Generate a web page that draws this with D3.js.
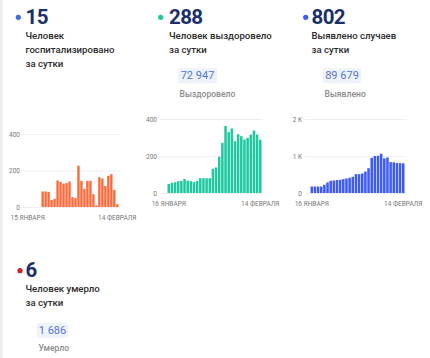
<!DOCTYPE html>
<html><head><meta charset="utf-8">
<script src="https://cdn.jsdelivr.net/npm/d3@7"></script>
<style>
html,body{margin:0;padding:0;background:#fff;}
svg{display:block;font-family:Roboto,"Noto Sans",sans-serif;}
</style></head>
<body><svg id="c" width="430" height="358"></svg>
<script>
// ---- data ----
const hospDates = d3.timeDay.range(new Date(2021,0,15), new Date(2021,1,15));
const otherDates = d3.timeDay.range(new Date(2021,0,16), new Date(2021,1,15));
const hospitalized = [null,null,null,null,null,85,85,83,38,45,145,138,128,131,140,54,49,226,143,99,143,143,70,9,163,156,115,171,180,94,15];
const recovered = [49,55,58,64,65,76,67,64,60,65,80,80,80,80,131,138,196,271,362,329,349,280,318,307,289,298,316,338,316,288];
const cases = [175,175,175,175,223,286,330,339,348,357,375,393,411,438,509,509,527,580,670,950,1000,1005,1060,935,960,835,830,810,805,802];
const hospTicks = [0,200,400];
const recTicks = [0,200,400];
const caseTicks = [0,1000,2000];
const caseTickLabels = ["0","1 K","2 K"];
const hospDateLabels = ["15 ЯНВАРЯ","14 ФЕВРАЛЯ"];
const otherDateLabels = ["16 ЯНВАРЯ","14 ФЕВРАЛЯ"];
const headlines = [
  {num:"15", lines:["Человек","госпитализировано","за сутки"], total:null, totalLabel:null, dot:"#3d6be0"},
  {num:"288", lines:["Человек выздоровело","за сутки"], total:"72 947", totalLabel:"Выздоровело", dot:"#1fc79d"},
  {num:"802", lines:["Выявлено случаев","за сутки"], total:"89 679", totalLabel:"Выявлено", dot:"#3d5af1"},
  {num:"6", lines:["Человек умерло","за сутки"], total:"1 686", totalLabel:"Умерло", dot:"#d3202b"}
];

// ---- layout ----
const svg = d3.select("#c");
svg.append("rect").attr("x",0).attr("y",0).attr("width",2.5).attr("height",358).attr("fill","#ececec");

const blocks = [
  {x:25.5, dotX:18.3, dotY:17.3, numY:23.5, lineY:39, boxX:null},
  {x:169, dotX:160.7, dotY:17.3, numY:23.5, lineY:39, boxX:178, boxY:68.3, boxW:39},
  {x:311.5, dotX:305.7, dotY:17.3, numY:23.5, lineY:39, boxX:323, boxY:68.3, boxW:38},
  {x:25.5, dotX:20, dotY:270.7, numY:276.5, lineY:292.3, boxX:37, boxY:322.7, boxW:31}
];
headlines.forEach((h,i)=>{
  const b = blocks[i];
  const g = svg.append("g");
  g.append("circle").attr("cx",b.dotX).attr("cy",b.dotY).attr("r",2.6).attr("fill",h.dot);
  g.append("text").attr("x",b.x).attr("y",b.numY).text(h.num)
    .attr("font-size",20.5).attr("font-weight",700).attr("letter-spacing",-0.6).attr("fill","#1b2f6b");
  h.lines.forEach((l,j)=>{
    g.append("text").attr("x",b.x).attr("y",b.lineY+j*14).text(l)
      .attr("font-size",9.6).attr("font-weight",500).attr("fill","#2b2b2b");
  });
  if(h.total){
    g.append("rect").attr("x",b.boxX).attr("y",b.boxY).attr("width",b.boxW).attr("height",15)
      .attr("rx",2).attr("fill","#eef2fb");
    g.append("text").attr("x",b.boxX+b.boxW/2).attr("y",b.boxY+11).attr("text-anchor","middle")
      .text(h.total).attr("font-size",11).attr("fill","#5676d6");
    g.append("text").attr("x",b.boxX+1.5).attr("y",b.boxY+28.5).text(h.totalLabel)
      .attr("font-size",8.6).attr("font-weight",500).attr("fill","#8c8c8c");
  }
});

// ---- charts ----
function barChart(o){
  const x = d3.scaleBand().domain(o.dates.map(d=>+d)).range(o.xr).paddingInner(0.2).paddingOuter(0);
  const y = d3.scaleLinear().domain([0,o.max]).range(o.yr);
  const g = svg.append("g");
  const ax = g.append("g").attr("transform",`translate(${o.gridX0},0)`)
    .call(d3.axisLeft(y).tickValues(o.ticks).tickSize(-(o.gridX1-o.gridX0)).tickPadding(o.pad)
      .tickFormat((d,i)=>o.tickLabels ? o.tickLabels[i] : d));
  ax.select(".domain").remove();
  ax.selectAll("line").attr("stroke","#efefef");
  ax.selectAll("text").attr("font-size",6.5).attr("fill","#777").attr("font-family","Roboto,sans-serif");
  g.selectAll("rect.bar").data(o.values.map((v,i)=>({d:+o.dates[i],v})).filter(d=>d.v!=null))
    .enter().append("rect").attr("class","bar")
    .attr("x",d=>x(d.d)).attr("width",x.bandwidth())
    .attr("y",d=>y(d.v)).attr("height",d=>y(0)-y(d.v)).attr("fill",o.color);
  const first = +o.dates[0], last = +o.dates[o.dates.length-1];
  const bx = g.append("g").attr("transform",`translate(0,${o.yr[0]})`)
    .call(d3.axisBottom(x).tickValues([first,last]).tickSize(0).tickPadding(o.xpad)
      .tickFormat(d=> d===first ? o.dateLabels[0] : o.dateLabels[1]));
  bx.select(".domain").remove();
  bx.selectAll("text").attr("font-size",6.5).attr("fill","#777").attr("font-family","Roboto,sans-serif");
}

barChart({dates:hospDates, values:hospitalized, xr:[26.5,118.5], yr:[207,134], max:400,
  ticks:hospTicks, gridX0:22, gridX1:120, pad:2, color:"#fb6a3c", dateLabels:hospDateLabels, xpad:8.5});
barChart({dates:otherDates, values:recovered, xr:[167.5,261.5], yr:[193,119], max:400,
  ticks:recTicks, gridX0:159.5, gridX1:262, pad:2.5, color:"#1fc9a0", dateLabels:otherDateLabels, xpad:8.5});
barChart({dates:otherDates, values:cases, xr:[310.5,404.5], yr:[193,119], max:2000,
  ticks:caseTicks, tickLabels:caseTickLabels, gridX0:305, gridX1:405, pad:3, color:"#3d5af1", dateLabels:otherDateLabels, xpad:8.5});
</script>
</body></html>
